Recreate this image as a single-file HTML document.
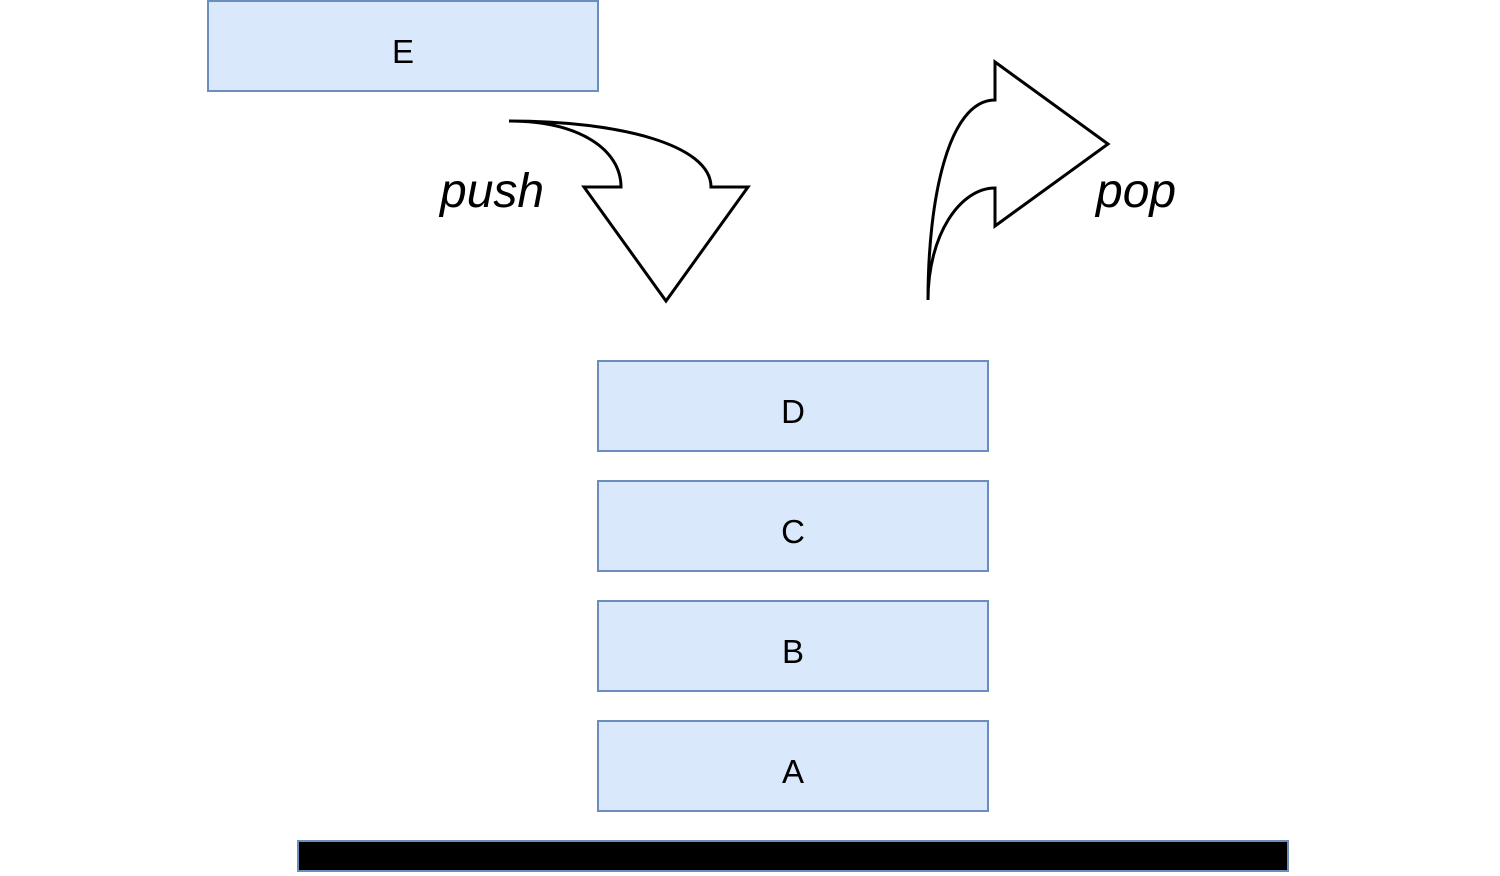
<!DOCTYPE html>
<html><head><style>
body{margin:0;width:1500px;height:876px;background:#fff;position:relative;overflow:hidden;font-family:"Liberation Sans",sans-serif}
.b{position:absolute;background:#dae8fc;border:2px solid #6c8ebf;box-sizing:border-box;width:392px;height:92px;display:flex;align-items:center;justify-content:center;font-size:33px;color:#000;padding-top:11px}
</style></head><body>
<div class="b" style="left:207px;top:0px">E</div>
<div class="b" style="left:597px;top:360px">D</div>
<div class="b" style="left:597px;top:480px">C</div>
<div class="b" style="left:597px;top:600px">B</div>
<div class="b" style="left:597px;top:720px">A</div>
<div style="position:absolute;left:297px;top:840px;width:992px;height:32px;background:#000;border:2px solid #6c8ebf;box-sizing:border-box"></div>
<svg width="1500" height="876" style="position:absolute;left:0;top:0">
<path d="M509,121 C580,121 621,150 621,187 L584,187 L666,301 L748,187 L711,187 C711,145 620,121 509,121 Z" fill="#fff" stroke="#000" stroke-width="3" stroke-linejoin="miter"/>
<path d="M928,300 C928,200 948,100 995,100 L995,62 L1108,144 L995,226 L995,188 C960,188 928,235 928,300 Z" fill="#fff" stroke="#000" stroke-width="3"/>
<text x="440" y="207" font-size="48" font-style="italic" font-family="Liberation Sans, sans-serif">push</text>
<text x="1096" y="207" font-size="48" font-style="italic" font-family="Liberation Sans, sans-serif">pop</text>
</svg>
</body></html>
